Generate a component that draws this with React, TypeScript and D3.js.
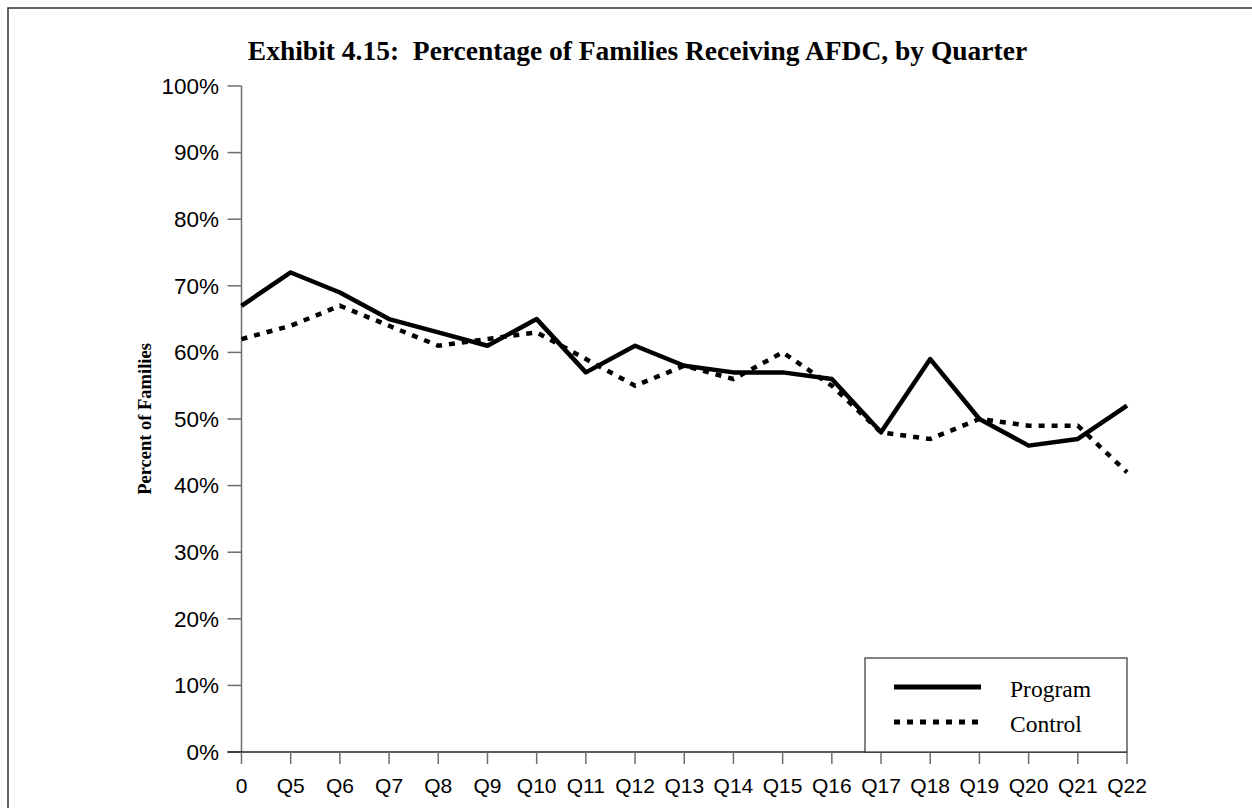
import React from "react";
import * as d3 from "d3";

const categories = ["0", "Q5", "Q6", "Q7", "Q8", "Q9", "Q10", "Q11", "Q12", "Q13", "Q14", "Q15", "Q16", "Q17", "Q18", "Q19", "Q20", "Q21", "Q22"];
const programValues = [67, 72, 69, 65, 63, 61, 65, 57, 61, 58, 57, 57, 56, 48, 59, 50, 46, 47, 52];
const controlValues = [62, 64, 67, 64, 61, 62, 63, 59, 55, 58, 56, 60, 55, 48, 47, 50, 49, 49, 42];
const yTicks = [0, 10, 20, 30, 40, 50, 60, 70, 80, 90, 100];
const seriesNames = ["Program", "Control"];
const title = "Exhibit 4.15:  Percentage of Families Receiving AFDC, by Quarter";
const yLabel = "Percent of Families";

export default function App() {
  const W = 1252, H = 808;
  const left = 241.5, right = 1127, top = 86, bottom = 752;
  const x = d3.scalePoint<string>().domain(categories).range([left, right]);
  const y = d3.scaleLinear().domain([0, 100]).range([bottom, top]);
  const line = d3.line<number>().x((_, i) => x(categories[i]) as number).y((d) => y(d));
  const sans = "'Liberation Sans', Arial, sans-serif";
  const serif = "'Liberation Serif', 'Times New Roman', serif";
  const axisColor = "#6e6e6e";
  const dash = "6,7";
  const lg = { x0: 865, y0: 658, x1: 1127, y1: 752 };
  return (
    <svg width={W} height={H} style={{ position: "absolute", left: 0, top: 0 }}>
      <rect x={0} y={0} width={W} height={H} fill="#fff" />
      <rect x={8} y={8} width={1300} height={900} fill="none" stroke="#333" strokeWidth={1.5} />
      <text x={637.5} y={60} textAnchor="middle" fontFamily={serif} fontWeight="bold" fontSize={27.5} style={{ whiteSpace: "pre" }}>{title}</text>
      <text transform={`translate(151,${(top + bottom) / 2}) rotate(-90)`} textAnchor="middle" fontFamily={serif} fontWeight="bold" fontSize={18.5}>{yLabel}</text>
      {/* y axis */}
      <line x1={left} x2={left} y1={top} y2={bottom} stroke={axisColor} strokeWidth={1.5} />
      {yTicks.map((t) => (
        <g key={t}>
          <line x1={left - 14} x2={left} y1={y(t)} y2={y(t)} stroke={axisColor} strokeWidth={1.5} />
          <text x={219} y={y(t)} dy="0.35em" textAnchor="end" fontFamily={sans} fontSize={22.5}>{t}%</text>
        </g>
      ))}
      {/* x axis */}
      <line x1={left - 14} x2={right} y1={bottom} y2={bottom} stroke="#222" strokeWidth={1.5} />
      {categories.map((c) => (
        <g key={c}>
          <line x1={x(c)} x2={x(c)} y1={bottom} y2={bottom + 12} stroke={axisColor} strokeWidth={1.5} />
          <text x={x(c)} y={793} textAnchor="middle" fontFamily={sans} fontSize={21}>{c}</text>
        </g>
      ))}
      <path d={line(controlValues) || ""} fill="none" stroke="#000" strokeWidth={4.5} strokeDasharray={dash} />
      <path d={line(programValues) || ""} fill="none" stroke="#000" strokeWidth={4.5} strokeLinejoin="round" />
      {/* legend */}
      <rect x={lg.x0} y={lg.y0} width={lg.x1 - lg.x0} height={lg.y1 - lg.y0} fill="#fff" stroke="#333" strokeWidth={1.2} />
      <line x1={894} x2={981} y1={687} y2={687} stroke="#000" strokeWidth={5} />
      <line x1={894} x2={981} y1={722} y2={722} stroke="#000" strokeWidth={5} strokeDasharray={dash} />
      <text x={1010} y={697} fontFamily={serif} fontSize={23.5}>{seriesNames[0]}</text>
      <text x={1010} y={732} fontFamily={serif} fontSize={23.5}>{seriesNames[1]}</text>
    </svg>
  );
}
